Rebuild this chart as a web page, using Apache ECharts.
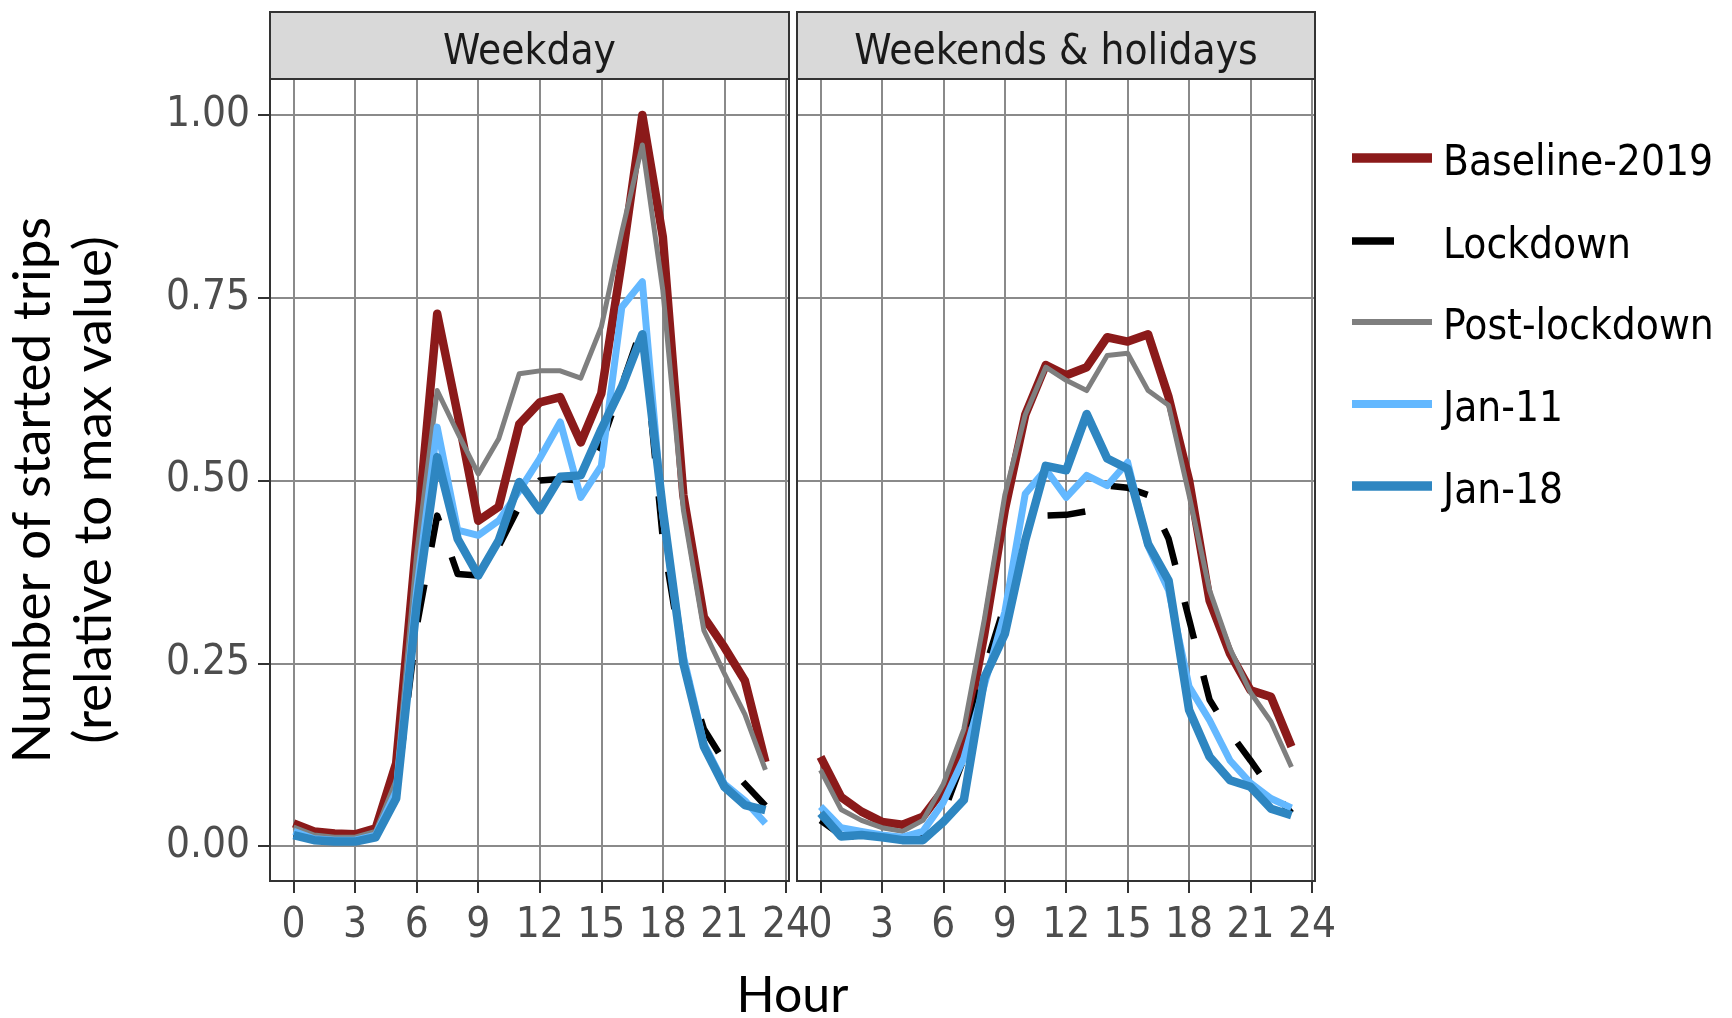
<!DOCTYPE html>
<html>
<head>
<meta charset="utf-8">
<script src="https://cdn.jsdelivr.net/npm/echarts@6.0.0/dist/echarts.min.js"></script>
<style>
html,body{margin:0;padding:0;background:#ffffff;}
#chart{width:1732px;height:1018px;}
</style>
</head>
<body>
<div id="chart"></div>
<script>
// ---------------- DATA ----------------
const hours = [0,1,2,3,4,5,6,7,8,9,10,11,12,13,14,15,16,17,18,19,20,21,22,23];
const panelNames = ['Weekday', 'Weekends & holidays'];
const seriesNames = ['Baseline-2019', 'Lockdown', 'Post-lockdown', 'Jan-11', 'Jan-18'];
const xTickValues = [0,3,6,9,12,15,18,21,24];
const yTickValues = [0,0.25,0.5,0.75,1];

// Weekday
const baselineWeekday = [0.031,0.020,0.017,0.016,0.024,0.113,0.420,0.728,0.590,0.445,0.464,0.577,0.607,0.614,0.552,0.619,0.800,1.000,0.833,0.480,0.313,0.272,0.226,0.115];
const lockdownWeekday = [0.015,0.010,0.008,0.008,0.012,0.070,0.300,0.452,0.372,0.370,0.410,0.465,0.500,0.502,0.500,0.550,0.630,0.712,0.420,0.250,0.160,0.115,0.085,0.055];
const postWeekday     = [0.026,0.015,0.012,0.012,0.020,0.090,0.400,0.623,0.565,0.509,0.557,0.646,0.650,0.650,0.640,0.710,0.840,0.959,0.760,0.460,0.295,0.236,0.180,0.104];
const jan11Weekday    = [0.020,0.010,0.008,0.008,0.015,0.075,0.350,0.573,0.432,0.425,0.445,0.486,0.530,0.580,0.477,0.520,0.737,0.772,0.450,0.260,0.140,0.085,0.062,0.031];
const jan18Weekday    = [0.015,0.008,0.006,0.006,0.012,0.065,0.330,0.532,0.420,0.370,0.418,0.498,0.459,0.505,0.507,0.570,0.628,0.700,0.460,0.250,0.136,0.081,0.056,0.049];

// Weekends & holidays
const baselineWeekend = [0.122,0.067,0.047,0.033,0.029,0.040,0.077,0.140,0.290,0.460,0.590,0.658,0.644,0.655,0.696,0.690,0.700,0.614,0.500,0.336,0.263,0.213,0.204,0.136];
const lockdownWeekend = [0.035,0.015,0.012,0.010,0.010,0.015,0.045,0.120,0.240,0.330,0.413,0.452,0.453,0.458,0.493,0.490,0.480,0.420,0.310,0.200,0.155,0.117,0.077,0.045];
const postWeekend     = [0.104,0.050,0.035,0.025,0.020,0.035,0.085,0.160,0.310,0.480,0.590,0.655,0.637,0.623,0.671,0.674,0.623,0.603,0.480,0.350,0.270,0.210,0.170,0.108];
const jan11Weekend    = [0.054,0.025,0.020,0.015,0.012,0.020,0.060,0.120,0.220,0.320,0.482,0.515,0.477,0.507,0.493,0.525,0.410,0.350,0.218,0.172,0.117,0.086,0.065,0.052];
const jan18Weekend    = [0.045,0.013,0.015,0.012,0.008,0.008,0.033,0.063,0.230,0.290,0.418,0.520,0.514,0.591,0.530,0.516,0.413,0.363,0.186,0.122,0.090,0.081,0.051,0.042];

// ---------------- STYLE ----------------
const FONT = '"DejaVu Sans Condensed", "DejaVu Sans", sans-serif';
const TITLE_FONT = 'Lato, "Open Sans", sans-serif';
const styles = [
  {color:'#8B1A1A', width:8.5, type:'solid'},
  {color:'#000000', width:6.5, type:[38,38]},
  {color:'#7F7F7F', width:5,   type:'solid'},
  {color:'#63B8FF', width:7,   type:'solid'},
  {color:'#2E86C1', width:8.5, type:'solid'}
];
const panelData = [
  [baselineWeekday, lockdownWeekday, postWeekday, jan11Weekday, jan18Weekday],
  [baselineWeekend, lockdownWeekend, postWeekend, jan11Weekend, jan18Weekend]
];

// layout
const panels = [{L:270, R:789}, {L:797, R:1315}];
const PT = 79, PB = 881;          // panel top/bottom
const Y1 = 115, Y0 = 846;         // pixel of y=1 and y=0
const XMIN = -1.15, XMAX = 24.15; // expanded x range

const grids = [], xAxes = [], yAxes = [], series = [], graphics = [];

panels.forEach((p, pi) => {
  const pxPerHr = (p.R - p.L) / (XMAX - XMIN);
  const x0 = p.L + (0 - XMIN) * pxPerHr;
  const x24 = p.L + (24 - XMIN) * pxPerHr;
  const base = grids.length;
  // grid A: vertical gridlines + x ticks
  grids.push({left:x0, top:PT, width:x24 - x0, height:PB - PT, containLabel:false});
  // grid B: horizontal gridlines + y ticks
  grids.push({left:p.L, top:Y1, width:p.R - p.L, height:Y0 - Y1, containLabel:false});
  // grid C: data
  grids.push({left:x0, top:Y1, width:x24 - x0, height:Y0 - Y1, containLabel:false});

  xAxes.push({
    type:'value', gridIndex:base, min:xTickValues[0], max:xTickValues[xTickValues.length-1], interval:3,
    axisLine:{show:false},
    axisTick:{show:true, length:12, lineStyle:{color:'#333333', width:2}},
    axisLabel:{show:true, margin:24, color:'#4d4d4d', fontSize:42, fontFamily:FONT, showMinLabel:true, showMaxLabel:true},
    splitLine:{show:true, lineStyle:{color:'#8a8a8a', width:2}}
  });
  yAxes.push({type:'value', gridIndex:base, min:0, max:1, show:false});

  xAxes.push({type:'value', gridIndex:base+1, min:0, max:1, show:false});
  yAxes.push({
    type:'value', gridIndex:base+1, min:yTickValues[0], max:yTickValues[yTickValues.length-1], interval:0.25,
    axisLine:{show:false},
    axisTick:{show:pi === 0, length:12, lineStyle:{color:'#333333', width:2}},
    axisLabel:{show:pi === 0, margin:20, color:'#4d4d4d', fontSize:42, fontFamily:FONT,
               formatter: v => v.toFixed(2), showMinLabel:true, showMaxLabel:true},
    splitLine:{show:true, lineStyle:{color:'#8a8a8a', width:2}}
  });

  xAxes.push({type:'value', gridIndex:base+2, min:0, max:24, show:false});
  yAxes.push({type:'value', gridIndex:base+2, min:0, max:1, show:false});

  panelData[pi].forEach((arr, si) => {
    series.push({
      name: seriesNames[si],
      type: 'line',
      xAxisIndex: base+2, yAxisIndex: base+2,
      data: hours.map((h, i) => [h, arr[i]]),
      showSymbol:false, symbol:'none', clip:false, silent:true,
      lineStyle:{color:styles[si].color, width:styles[si].width, type:styles[si].type, cap:'butt', join:'round'},
      z: 10 + si,
      animation:false
    });
  });

  graphics.push({type:'rect', z:50, shape:{x:p.L, y:PT, width:p.R - p.L, height:PB - PT},
                 style:{fill:null, stroke:'#333333', lineWidth:2}});
  graphics.push({type:'rect', z:50, shape:{x:p.L, y:12, width:p.R - p.L, height:PT - 12},
                 style:{fill:'#d9d9d9', stroke:'#333333', lineWidth:2}});
  graphics.push({type:'text', z:51, x:(p.L + p.R)/2, y:(12 + PT)/2 + 8,
                 style:{text:panelNames[pi], fill:'#1a1a1a', font:'42px ' + FONT, textAlign:'center', textVerticalAlign:'middle'}});
});

// y axis title
graphics.push({type:'text', z:51, x:63, y:490, rotation:Math.PI/2,
               style:{text:'Number of started trips\n(relative to max value)', fill:'#000000',
                      font:'53px ' + TITLE_FONT, lineHeight:61, textAlign:'center', textVerticalAlign:'middle'}});
// x axis title
graphics.push({type:'text', z:51, x:(panels[0].L + panels[1].R)/2, y:996,
               style:{text:'Hour', fill:'#000000', font:'50px ' + TITLE_FONT, textAlign:'center', textVerticalAlign:'middle'}});

// legend
const legendY = [158, 241, 322, 404, 486];
seriesNames.forEach((n, si) => {
  const st = styles[si];
  graphics.push({type:'line', z:51, shape:{x1:1352, y1:legendY[si], x2:1432, y2:legendY[si]},
                 style:{stroke:st.color, lineWidth:st.width + 1, lineDash: Array.isArray(st.type) ? [42, 42] : null, lineCap:'butt'}});
  graphics.push({type:'text', z:51, x:1443, y:legendY[si] + 6,
                 style:{text:n, fill:'#000000', font:'42px ' + FONT, textAlign:'left', textVerticalAlign:'middle'}});
});

const chart = echarts.init(document.getElementById('chart'), null, {renderer:'canvas', width:1732, height:1018});
chart.setOption({
  animation:false,
  backgroundColor:'#ffffff',
  grid: grids,
  xAxis: xAxes,
  yAxis: yAxes,
  series: series,
  graphic: graphics
});
</script>
</body>
</html>
